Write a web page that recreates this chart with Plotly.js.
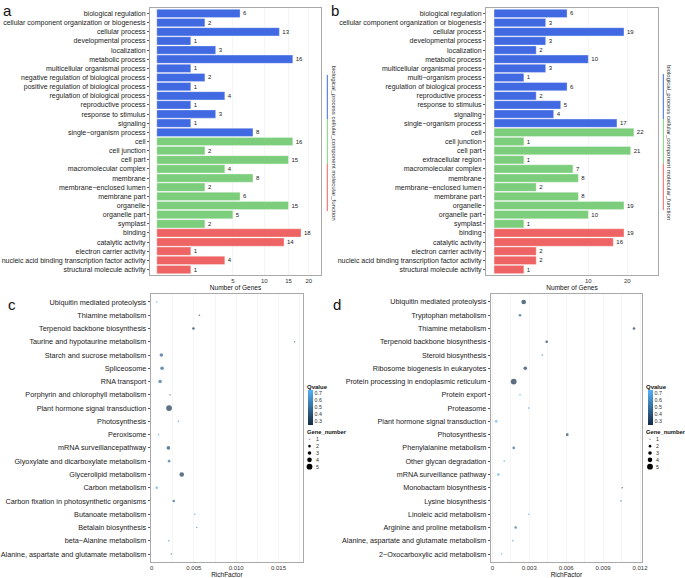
<!DOCTYPE html>
<html><head><meta charset="utf-8">
<script src="https://cdn.plot.ly/plotly-3.0.1.min.js"></script>
<style>html,body{margin:0;padding:0;background:#fff}#chart{width:685px;height:578px}</style>
</head><body><div id="chart"></div>
<script>
// ---------- Panel a : GO terms ----------
const aTerms = ["biological regulation","cellular component organization or biogenesis","cellular process","developmental process","localization","metabolic process","multicellular organismal process","negative regulation of biological process","positive regulation of biological process","regulation of biological process","reproductive process","response to stimulus","signaling","single\u2212organism process","cell","cell junction","cell part","macromolecular complex","membrane","membrane\u2212enclosed lumen","membrane part","organelle","organelle part","symplast","binding","catalytic activity","electron carrier activity","nucleic acid binding transcription factor activity","structural molecule activity"];
const aCounts = [6,2,13,1,3,16,1,2,1,4,1,3,1,8,16,2,15,4,8,2,6,15,5,2,18,14,1,4,1];
const aGroupSizes = [14,10,5];
const aTickVals = [5,10,15,20];

// ---------- Panel b : GO terms ----------
const bTerms = ["biological regulation","cellular component organization or biogenesis","cellular process","developmental process","localization","metabolic process","multicellular organismal process","multi\u2212organism process","regulation of biological process","reproductive process","response to stimulus","signaling","single\u2212organism process","cell","cell junction","cell part","extracellular region","macromolecular complex","membrane","membrane\u2212enclosed lumen","membrane part","organelle","organelle part","symplast","binding","catalytic activity","electron carrier activity","nucleic acid binding transcription factor activity","structural molecule activity"];
const bCounts = [6,3,19,3,2,10,3,1,6,2,5,4,17,22,1,21,1,7,8,2,8,19,10,1,19,16,2,2,1];
const bGroupSizes = [13,11,5];
const bTickVals = [10,20];

const groupNames = ["biological_process","cellular_component","molecular_function"];
const groupColors = ["#4169E1","#7CCD7C","#EE6363"];

// ---------- Panel c : KEGG ----------
const cPathways = ["Ubiquitin mediated proteolysis","Thiamine metabolism","Terpenoid backbone biosynthesis","Taurine and hypotaurine metabolism","Starch and sucrose metabolism","Spliceosome","RNA transport","Porphyrin and chlorophyll metabolism","Plant hormone signal transduction","Photosynthesis","Peroxisome","mRNA surveillancepathway","Glyoxylate and dicarboxylate metabolism","Glycerolipid metabolism","Carbon metabolism","Carbon fixation in photosynthetic organisms","Butanoate metabolism","Betalain biosynthesis","beta\u2212Alanine metabolism","Alanine, aspartate and glutamate metabolism"];
const cRich = [0.00062,0.00566,0.00495,0.0169,0.00116,0.00124,0.00101,0.00219,0.00207,0.00317,0.00083,0.00199,0.00207,0.00357,0.00062,0.00263,0.00511,0.00535,0.00204,0.00234];
const cQ = [0.72,0.35,0.30,0.45,0.45,0.45,0.48,0.55,0.28,0.65,0.72,0.36,0.50,0.30,0.72,0.45,0.62,0.60,0.60,0.50];
const cGenes = [1,1,2,1,3,3,3,1,5,1,1,3,2,4,2,2,1,1,1,1];
const cTickVals = [0,0.005,0.010,0.015];
const cTickText = ["0","0.005","0.010","0.015"];

// ---------- Panel d : KEGG ----------
const dPathways = ["Ubiquitin mediated proteolysis","Tryptophan metabolism","Thiamine metabolism","Terpenoid backbone biosynthesis","Steroid biosynthesis","Ribosome biogenesis in eukaryotes","Protein processing in endoplasmic reticulum","Protein export","Proteasome","Plant hormone signal transduction","Photosynthesis","Phenylalanine metabolism","Other glycan degradation","mRNA surveillance pathway","Monobactam biosynthesis","Lysine biosynthesis","Linoleic acid metabolism","Arginine and proline metabolism","Alanine, aspartate and glutamate metabolism","2\u2212Oxocarboxylic acid metabolism"];
const dRich = [0.00255,0.00225,0.01151,0.00442,0.00406,0.00268,0.00174,0.00225,0.00296,0.00032,0.00609,0.00174,0.00097,0.00049,0.01056,0.01045,0.00296,0.00190,0.00166,0.00076];
const dQ = [0.28,0.45,0.30,0.30,0.50,0.30,0.27,0.70,0.65,0.75,0.30,0.45,0.70,0.72,0.38,0.50,0.70,0.50,0.65,0.70];
const dGenes = [4,2,2,2,1,3,5,1,1,2,2,2,1,2,1,1,1,2,1,1];
const dTickVals = [0,0.003,0.006,0.009,0.012];
const dTickText = ["0","0.003","0.006","0.009","0.012"];

const qScale = [[0,"#132B43"],[1,"#56B1F7"]];
const qMin = 0.243, qMax = 0.743;
const qTicks = [0.3,0.4,0.5,0.6,0.7];
const legendGenes = [1,2,3,4,5];

// ---------- helpers ----------
const W = 685, H = 578;
const px = v => v / W;
const py = v => 1 - v / H;
const FONT = "Liberation Sans, Arial, sans-serif";
const sizeFor = n => [0, 1.6, 2.6, 3.6, 4.6, 5.8][n];

function groupColorArray(sizes){
  const out = [];
  sizes.forEach((s,i)=>{ for(let k=0;k<s;k++) out.push(groupColors[i]); });
  return out;
}

const traces = [];
function barTrace(terms, counts, sizes, xa, ya){
  return {
    type:"bar", orientation:"h", xaxis:xa, yaxis:ya,
    y: terms, x: counts.map(Math.sqrt),
    text: counts.map(String), textposition:"outside", cliponaxis:false,
    constraintext:"none",
    textfont:{size:6, color:"#222", family:FONT},
    width:0.9,
    marker:{color:groupColorArray(sizes), line:{color:"rgba(255,255,255,0.55)", width:0.6}},
    hoverinfo:"skip", showlegend:false
  };
}
traces.push(barTrace(aTerms, aCounts, aGroupSizes, "x", "y"));
traces.push(barTrace(bTerms, bCounts, bGroupSizes, "x2", "y2"));

function dotTrace(paths, rich, q, genes, xa, ya, cax){
  return {
    type:"scatter", mode:"markers", xaxis:xa, yaxis:ya,
    x: rich, y: paths, cliponaxis:false,
    marker:{size: genes.map(sizeFor), color:q, coloraxis:cax, line:{width:0}},
    hoverinfo:"skip", showlegend:false
  };
}
traces.push(dotTrace(cPathways, cRich, cQ, cGenes, "x3", "y3", "coloraxis"));
traces.push(dotTrace(dPathways, dRich, dQ, dGenes, "x4", "y4", "coloraxis2"));

const frame = {showline:true, mirror:true, linecolor:"#a9a9a9", linewidth:1, zeroline:false};
const tickFontSmall = {size:6, color:"#333", family:FONT};

function catAxis(domain, n, fsize){
  return Object.assign({
    domain, type:"category", autorange:false, range:[n-0.4,-0.6],
    tickmode:"linear", tick0:0, dtick:1,
    ticks:"outside", ticklen:2, tickcolor:"#333", tickwidth:0.8,
    tickfont:{size:fsize, color:"#1a1a1a", family:FONT},
    showgrid:false, fixedrange:true
  }, frame);
}

function colorbar(x){
  return {x:px(x), xanchor:"left", y:py(407.5), yanchor:"middle", len:35, lenmode:"pixels",
    thickness:5, outlinewidth:0, xpad:0, ypad:0, tickvals:qTicks, ticks:"",
    tickfont:{size:5.3, color:"#333", family:FONT}, title:{text:""}};
}

const layout = {
  width:W, height:H, margin:{l:0,r:0,t:0,b:0},
  paper_bgcolor:"#fff", plot_bgcolor:"#fff",
  font:{family:FONT, color:"#222"},
  showlegend:false, bargap:0.1,
  xaxis: Object.assign({domain:[px(150),px(321)], anchor:"y", range:[-0.2,4.83],
    tickmode:"array", tickvals:aTickVals.map(Math.sqrt), ticktext:aTickVals.map(String),
    ticks:"", tickfont:tickFontSmall, showgrid:true, gridcolor:"#efefef", gridwidth:0.6,
    title:{text:"Number of Genes", font:{size:6.5, color:"#111"}, standoff:1}}, frame),
  yaxis: catAxis([py(275),py(8)], aTerms.length, 7.0),
  xaxis2: Object.assign({domain:[px(486),px(658)], anchor:"y2", range:[-0.27,5.5],
    tickmode:"array", tickvals:bTickVals.map(Math.sqrt), ticktext:bTickVals.map(String),
    ticks:"", tickfont:tickFontSmall, showgrid:true, gridcolor:"#efefef", gridwidth:0.6,
    title:{text:"Number of Genes", font:{size:6.5, color:"#111"}, standoff:1}}, frame),
  yaxis2: Object.assign(catAxis([py(275),py(8)], bTerms.length, 7.0), {anchor:"x2"}),
  xaxis3: Object.assign({domain:[px(150.7),px(303)], anchor:"y3", range:[-0.0001,0.0179],
    tickmode:"array", tickvals:cTickVals, ticktext:cTickText,
    ticks:"", tickfont:tickFontSmall, showgrid:false,
    minor:{tick0:0, dtick:0.0025, showgrid:true, gridcolor:"#efefef", gridwidth:0.6},
    title:{text:"RichFactor", font:{size:6.5, color:"#111"}, standoff:1}}, frame),
  yaxis3: Object.assign(catAxis([py(562),py(294)], cPathways.length, 7.25), {anchor:"x3"}),
  xaxis4: Object.assign({domain:[px(490.7),px(642)], anchor:"y4", range:[-0.00013,0.01216],
    tickmode:"array", tickvals:dTickVals, ticktext:dTickText,
    ticks:"", tickfont:tickFontSmall, showgrid:false,
    minor:{tick0:0, dtick:0.0015, showgrid:true, gridcolor:"#efefef", gridwidth:0.6},
    title:{text:"RichFactor", font:{size:6.5, color:"#111"}, standoff:1}}, frame),
  yaxis4: Object.assign(catAxis([py(562),py(294)], dPathways.length, 7.2), {anchor:"x4"}),
  coloraxis: {colorscale:qScale, cmin:qMin, cmax:qMax, colorbar:colorbar(307.5)},
  coloraxis2: {colorscale:qScale, cmin:qMin, cmax:qMax, colorbar:colorbar(647.5)},
  shapes:[], annotations:[]
};

// panel letters
[["a",8,10],["b",335,10],["c",12,304],["d",337,304]].forEach(([t,x,y])=>{
  layout.annotations.push({text:t, x:px(x), y:py(y), xref:"paper", yref:"paper",
    showarrow:false, xanchor:"center", yanchor:"middle", font:{size:15, color:"#111", family:FONT}});
});

// GO category strips (a, b)
function strip(lineX, textX, segs){
  segs.forEach(([y0,y1],i)=>{
    layout.shapes.push({type:"line", xref:"paper", yref:"paper", x0:px(lineX), x1:px(lineX),
      y0:py(y0), y1:py(y1), line:{color:groupColors[i], width:1}});
  });
  layout.annotations.push({text:groupNames.join(" "), textangle:90, x:px(textX), y:py((segs[0][0]+segs[2][1])/2),
    xref:"paper", yref:"paper", showarrow:false, xanchor:"center", yanchor:"middle",
    font:{size:6, color:"#333", family:FONT}});
}
strip(327.3, 333.5, [[75,119],[119,164],[164,211]]);
strip(663.3, 669, [[74,119],[119,164],[164,210]]);

// Qvalue titles + Gene_number size legends (c, d)
function sideLegend(titleX, symX, labX){
  layout.annotations.push({text:"<b>Qvalue</b>", x:px(titleX), y:py(386.5), xref:"paper", yref:"paper",
    showarrow:false, xanchor:"left", yanchor:"middle", font:{size:6, color:"#111", family:FONT}});
  layout.annotations.push({text:"<b>Gene_number</b>", x:px(titleX), y:py(431.7), xref:"paper", yref:"paper",
    showarrow:false, xanchor:"left", yanchor:"middle", font:{size:5.8, color:"#111", family:FONT}});
  legendGenes.forEach((g,i)=>{
    const yc = 439.3 + i*6.85, r = sizeFor(g)/2;
    layout.shapes.push({type:"circle", xref:"paper", yref:"paper",
      x0:px(symX-r), x1:px(symX+r), y0:py(yc+r), y1:py(yc-r),
      fillcolor: g===1 ? "#9a9a9a" : "#000", line:{width:0}});
    layout.annotations.push({text:String(g), x:px(labX), y:py(yc), xref:"paper", yref:"paper",
      showarrow:false, xanchor:"left", yanchor:"middle", font:{size:5.3, color:"#333", family:FONT}});
  });
}
sideLegend(304.5, 309.5, 313.5);
sideLegend(643.5, 650, 654);

Plotly.newPlot("chart", traces, layout, {displayModeBar:false, staticPlot:true});
</script></body></html>
